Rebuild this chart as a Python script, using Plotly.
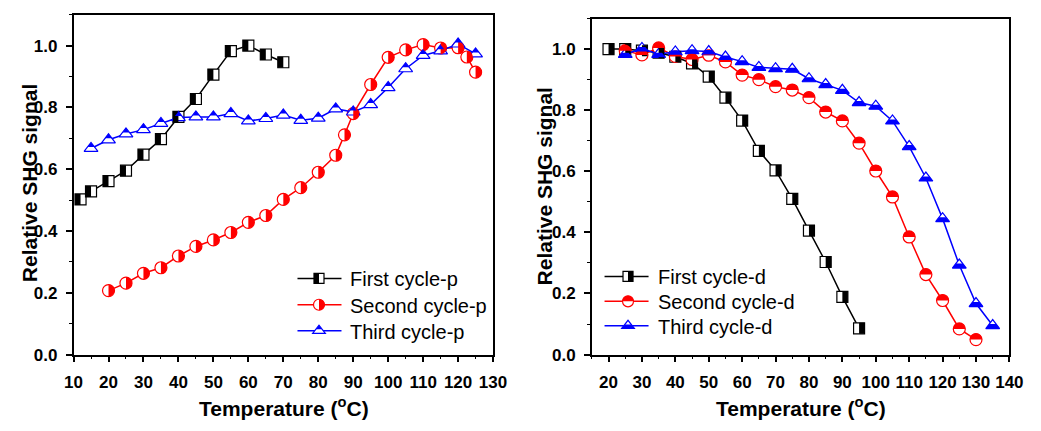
import plotly.graph_objects as go

W, H = 1041, 431

# ---- heating runs (left panel) ----
p1_temp = [12, 15, 20, 25, 30, 35, 40, 45, 50, 55, 60, 65, 70]
p1_shg = [0.502, 0.528, 0.561, 0.595, 0.647, 0.697, 0.769, 0.827, 0.906, 0.982, 1.0, 0.971, 0.946]

p2_temp = [20, 25, 30, 35, 40, 45, 50, 55, 60, 65, 70, 75, 80, 85, 87.5, 90, 95, 100, 105, 110, 115, 120, 122.5, 125]
p2_shg = [0.207, 0.231, 0.263, 0.281, 0.319, 0.350, 0.371, 0.395, 0.428, 0.450, 0.502, 0.540, 0.590, 0.645,
          0.711, 0.780, 0.874, 0.962, 0.986, 1.003, 0.992, 0.993, 0.963, 0.914]

p3_temp = [15, 20, 25, 30, 35, 40, 45, 50, 55, 60, 65, 70, 75, 80, 85, 90, 95, 100, 105, 110, 115, 120, 125]
p3_shg = [0.667, 0.695, 0.714, 0.728, 0.748, 0.767, 0.769, 0.769, 0.780, 0.756, 0.764, 0.775, 0.758, 0.765,
          0.795, 0.785, 0.809, 0.864, 0.925, 0.968, 0.983, 1.005, 0.973]

# ---- cooling runs (right panel) ----
d1_temp = [20, 25, 30, 35, 40, 45, 50, 55, 60, 65, 70, 75, 80, 85, 90, 95]
d1_shg = [1.0, 1.0, 0.995, 0.988, 0.975, 0.953, 0.910, 0.841, 0.766, 0.667, 0.603, 0.510, 0.406, 0.303, 0.189, 0.086]

d2_temp = [25, 30, 35, 40, 45, 50, 55, 60, 65, 70, 75, 80, 85, 90, 95, 100, 105, 110, 115, 120, 125, 130]
d2_shg = [0.995, 0.981, 1.004, 0.976, 0.966, 0.980, 0.958, 0.915, 0.900, 0.877, 0.866, 0.841, 0.794, 0.765,
          0.692, 0.601, 0.516, 0.385, 0.262, 0.177, 0.084, 0.049]

d3_temp = [25, 30, 35, 40, 45, 50, 55, 60, 65, 70, 75, 80, 85, 90, 95, 100, 105, 110, 115, 120, 125, 130, 135]
d3_shg = [0.983, 1.002, 0.983, 0.991, 0.995, 0.992, 0.974, 0.959, 0.940, 0.936, 0.934, 0.903, 0.884, 0.865,
          0.825, 0.813, 0.765, 0.681, 0.578, 0.445, 0.293, 0.167, 0.095]

left_names = ["First cycle-p", "Second cycle-p", "Third cycle-p"]
right_names = ["First cycle-d", "Second cycle-d", "Third cycle-d"]
x_ticks_left = [10, 20, 30, 40, 50, 60, 70, 80, 90, 100, 110, 120, 130]
x_ticks_right = [20, 30, 40, 50, 60, 70, 80, 90, 100, 110, 120, 130, 140]
y_ticks = [0.0, 0.2, 0.4, 0.6, 0.8, 1.0]

BLACK, RED, BLUE = "#000000", "#ff0000", "#0000ff"
FONT = "Liberation Sans, Arial, sans-serif"
SIZES = {"square": 11, "circle": 12, "triangle-up": 12}
K = 0.5523


def half_path(symbol, half, size):
    """SVG path (pixel units, y up) covering one half of a marker."""
    r = size / 2.0
    if symbol == "circle":
        k = K * r
        if half == "right":
            return f"M 0,{-r} C {k},{-r} {r},{-k} {r},0 C {r},{k} {k},{r} 0,{r} Z"
        if half == "left":
            return f"M 0,{-r} C {-k},{-r} {-r},{-k} {-r},0 C {-r},{k} {-k},{r} 0,{r} Z"
        if half == "top":
            return f"M {-r},0 C {-r},{k} {-k},{r} 0,{r} C {k},{r} {r},{k} {r},0 Z"
        return f"M {-r},0 C {-r},{-k} {-k},{-r} 0,{-r} C {k},{-r} {r},{-k} {r},0 Z"
    if symbol == "square":
        if half == "left":
            return f"M {-r},{-r} L 0,{-r} L 0,{r} L {-r},{r} Z"
        if half == "right":
            return f"M 0,{-r} L {r},{-r} L {r},{r} L 0,{r} Z"
        if half == "top":
            return f"M {-r},0 L {r},0 L {r},{r} L {-r},{r} Z"
        return f"M {-r},{-r} L {r},{-r} L {r},0 L {-r},0 Z"
    # triangle-up: apex at +r, base at -r/2, half-width rt at the base
    rt = r * 2 / 3 ** 0.5
    mid = r / 4
    if half == "top":
        return f"M {-rt / 2},{mid} L 0,{r} L {rt / 2},{mid} Z"
    return f"M {-rt / 2},{mid} L {rt / 2},{mid} L {rt},{-r / 2} L {-rt},{-r / 2} Z"


def outline_path(symbol, size):
    r = size / 2.0
    if symbol == "circle":
        k = K * r
        return (f"M {r},0 C {r},{k} {k},{r} 0,{r} C {-k},{r} {-r},{k} {-r},0 "
                f"C {-r},{-k} {-k},{-r} 0,{-r} C {k},{-r} {r},{-k} {r},0 Z")
    if symbol == "square":
        return f"M {-r},{-r} L {r},{-r} L {r},{r} L {-r},{r} Z"
    rt = r * 2 / 3 ** 0.5
    return f"M {-rt},{-r / 2} L {rt},{-r / 2} L 0,{r} Z"


fig = go.Figure()
shapes = []
annotations = []

series = [
    ("x", "y", p1_temp, p1_shg, left_names[0], BLACK, "square", "left"),
    ("x", "y", p2_temp, p2_shg, left_names[1], RED, "circle", "right"),
    ("x", "y", p3_temp, p3_shg, left_names[2], BLUE, "triangle-up", "top"),
    ("x2", "y2", d1_temp, d1_shg, right_names[0], BLACK, "square", "right"),
    ("x2", "y2", d2_temp, d2_shg, right_names[1], RED, "circle", "top"),
    ("x2", "y2", d3_temp, d3_shg, right_names[2], BLUE, "triangle-up", "bottom"),
]

for xa, ya, xs, ys, name, color, sym, half in series:
    size = SIZES[sym]
    fig.add_trace(go.Scatter(
        x=xs, y=ys, name=name, xaxis=xa, yaxis=ya, mode="lines+markers",
        line=dict(color=color, width=1.5),
        marker=dict(symbol=sym, size=size, color="white", line=dict(color=color, width=1.2)),
        showlegend=False,
    ))
    # half-filled marker caps, anchored on each data point
    for xv, yv in zip(xs, ys):
        shapes.append(dict(
            type="path", xref=xa, yref=ya, xsizemode="pixel", ysizemode="pixel",
            xanchor=xv, yanchor=yv, path=half_path(sym, half, size),
            fillcolor=color, line=dict(width=0), layer="above",
        ))


def px(v):
    return v / W


def py(v):
    return 1 - v / H


# hand-built legends (line, half-filled marker, label)
legend_rows = [
    (295, 340, 317, 347, [285, 312, 338.5], series[:3]),
    (609, 654, 633, 662, [283, 308.5, 333.5], series[3:]),
]
for x0, x1, xm, xt, rows, ser in legend_rows:
    for yr, (_, _, _, _, name, color, sym, half) in zip(rows, ser):
        size = SIZES[sym] - 1
        shapes.append(dict(type="line", xref="paper", yref="paper", x0=px(x0), x1=px(x1),
                           y0=py(yr), y1=py(yr), line=dict(color=color, width=1.5), layer="above"))
        shapes.append(dict(type="path", xref="paper", yref="paper", xsizemode="pixel", ysizemode="pixel",
                           xanchor=px(xm), yanchor=py(yr), path=outline_path(sym, size),
                           fillcolor="white", line=dict(color=color, width=1.2), layer="above"))
        shapes.append(dict(type="path", xref="paper", yref="paper", xsizemode="pixel", ysizemode="pixel",
                           xanchor=px(xm), yanchor=py(yr), path=half_path(sym, half, size),
                           fillcolor=color, line=dict(width=0), layer="above"))
        annotations.append(dict(text=name, xref="paper", yref="paper", x=px(xt), y=py(yr + 1),
                                xanchor="left", yanchor="middle", showarrow=False,
                                font=dict(family=FONT, size=20, color="black")))

# axis titles
for xc in (281, 810):
    annotations.append(dict(text="Temperature (<sup>o</sup>C)", xref="paper", yref="paper",
                            x=px(xc), y=py(417), xanchor="center", yanchor="middle", showarrow=False,
                            font=dict(family=FONT, size=21, color="black", weight="bold")))
for xc, yc in ((21, 188), (548, 191)):
    annotations.append(dict(text="Relative SHG signal", xref="paper", yref="paper", textangle=-90,
                            x=px(xc), y=py(yc), xanchor="center", yanchor="middle", showarrow=False,
                            font=dict(family=FONT, size=21, color="black", weight="bold")))

tickfont = dict(family=FONT, size=17, color="black", weight="bold")


def xaxis(domain, rng, ticks, anchor):
    return dict(domain=domain, range=rng, anchor=anchor, tickvals=ticks, ticks="outside",
                ticklen=6, tickwidth=1.5, tickcolor="black", showline=True, linecolor="black",
                linewidth=1.5, mirror=True, showgrid=False, zeroline=False, tickfont=tickfont,
                ticklabelstandoff=5,
                minor=dict(dtick=5, tick0=0, ticks="outside", ticklen=3, tickwidth=1.2, tickcolor="black"))


def yaxis(domain, anchor):
    return dict(domain=domain, range=[0, 1.1], anchor=anchor, tickvals=y_ticks, tickformat=".1f",
                ticks="outside", ticklen=6, tickwidth=1.5, tickcolor="black", showline=True,
                linecolor="black", linewidth=1.5, mirror=True, showgrid=False, zeroline=False,
                tickfont=tickfont, ticklabelstandoff=5,
                minor=dict(dtick=0.1, tick0=0, ticks="outside", ticklen=3, tickwidth=1.2, tickcolor="black"))


fig.update_layout(
    width=W, height=H, margin=dict(l=0, r=0, t=0, b=0),
    paper_bgcolor="white", plot_bgcolor="white", showlegend=False,
    xaxis=xaxis([66 / W, 495 / W], [10, 130], x_ticks_left, "y"),
    yaxis=yaxis([1 - 363 / H, 1 - 15 / H], "x"),
    xaxis2=xaxis([596 / W, 1023 / W], [15, 140], x_ticks_right, "y2"),
    yaxis2=yaxis([1 - 363 / H, 1 - 19 / H], "x2"),
    shapes=shapes, annotations=annotations,
)

fig.write_html("out.html")
